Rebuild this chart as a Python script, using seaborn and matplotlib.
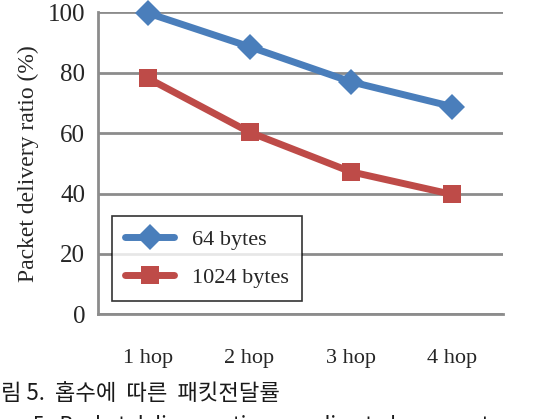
import pandas as pd
import matplotlib.pyplot as plt
import seaborn as sns

# Data
hops = ["1 hop", "2 hop", "3 hop", "4 hop"]
ratio_64 = [99.7, 88.6, 77.0, 68.8]
ratio_1024 = [78.1, 60.3, 47.2, 39.7]
series = ["64 bytes", "1024 bytes"]

df = pd.DataFrame({
    "x": list(range(len(hops))) * 2,
    "ratio": ratio_64 + ratio_1024,
    "size": [series[0]] * len(hops) + [series[1]] * len(hops),
})

sns.set_style("white")
plt.rcParams['font.family'] = ['Liberation Serif', 'DejaVu Serif']

fig = plt.figure(figsize=(5.5, 4.19), dpi=100)
ax = fig.add_axes([0.1776, 0.2499, 0.7364, 0.7207])

sns.lineplot(data=df, x="x", y="ratio", hue="size", style="size",
             palette={"64 bytes": "#4A7EBB", "1024 bytes": "#BE4B48"},
             markers={"64 bytes": "D", "1024 bytes": "s"}, dashes=False,
             linewidth=5, markersize=13, markeredgewidth=0, ax=ax)
for ln in ax.lines:
    ln.set_clip_on(False)

ax.set_xlim(-0.5, len(hops) - 0.5)
ax.set_ylim(0, 100)
ax.set_yticks(range(0, 101, 20))
ax.set_xticks(range(len(hops)))
ax.set_xticklabels(hops)
ax.set_xticks([i - 0.5 for i in range(len(hops) + 1)], minor=True)
ax.tick_params(axis='x', which='major', length=0, pad=25, labelsize=16)
ax.tick_params(axis='x', which='minor', length=6, width=2, color='#8c8c8c', direction='out')
ax.tick_params(axis='y', length=6, width=2, color='#8c8c8c', direction='out', labelsize=18, pad=3)
ax.yaxis.grid(True, color='#8c8c8c', linewidth=2)
ax.set_axisbelow(True)
for s in ['top', 'right']:
    ax.spines[s].set_visible(False)
for s in ['left', 'bottom']:
    ax.spines[s].set_color('#8c8c8c')
    ax.spines[s].set_linewidth(2)
ax.set_xlabel("")
ax.set_ylabel("Packet delivery ratio (%)", fontsize=17, labelpad=6)

leg = ax.legend(loc='lower left', bbox_to_anchor=(0.035, 0.043), borderaxespad=0,
                fontsize=16, frameon=True, fancybox=False, edgecolor='black',
                handlelength=2.2, borderpad=0.6, labelspacing=0.8, handletextpad=0.8)
leg.get_frame().set_linewidth(1.2)

# Caption (cropped in the original screenshot)
fig.text(0.002, 0.062, "림 5.  홉수에  따른  패킷전달률", fontsize=16, fontweight='medium',
         family=['Noto Sans CJK KR', 'DejaVu Sans'], va='center', ha='left', color='#1a1a1a')
fig.text(0.06, -0.016, "5.  Packet delivery ratio according to hop count", fontsize=15,
         family=['Noto Sans CJK KR', 'DejaVu Sans'], va='center', ha='left', color='#1a1a1a')

plt.savefig("out.png", dpi=100)
